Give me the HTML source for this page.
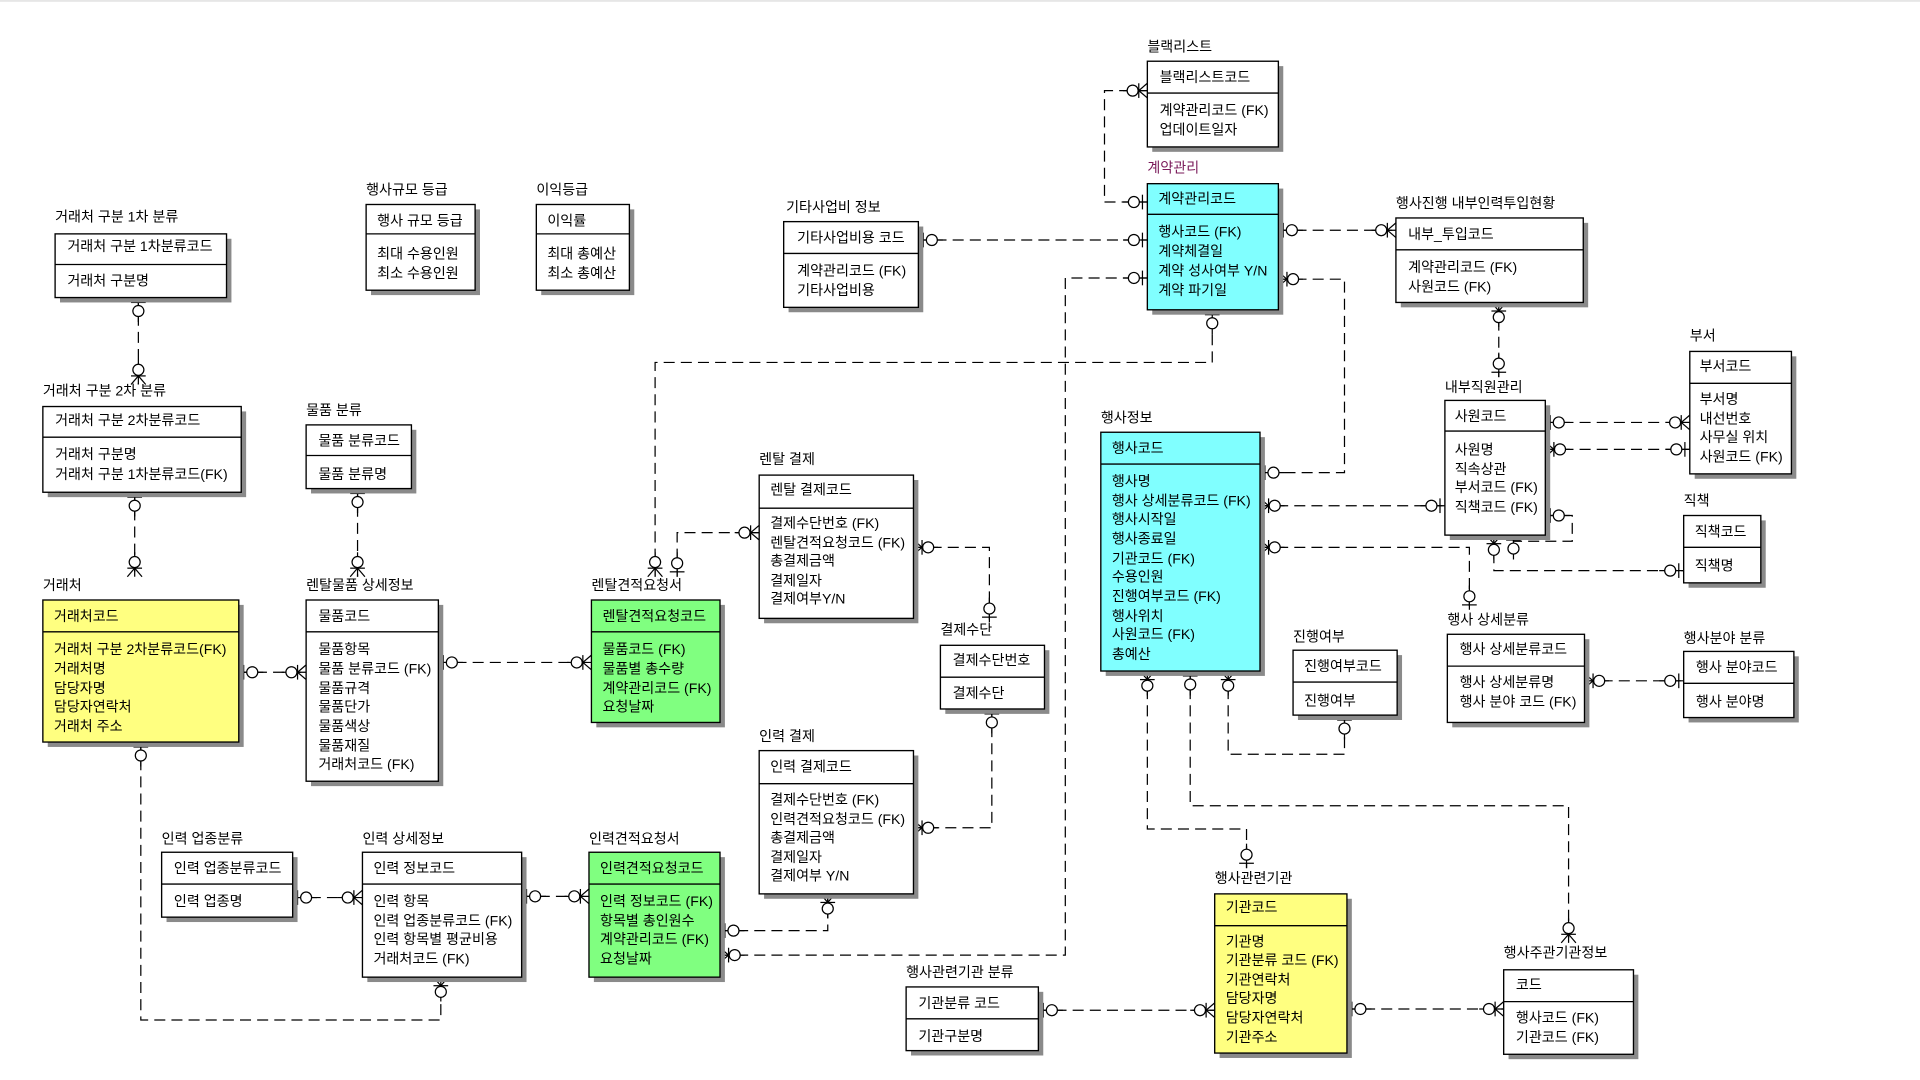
<!DOCTYPE html>
<html><head><meta charset="utf-8">
<style>
html,body{margin:0;padding:0;background:#fff;}
svg{display:block;}
text{font-family:"Liberation Sans","Noto Sans CJK KR",sans-serif;font-size:11.5px;fill:#000;}
.b{stroke:#000;stroke-width:1.1;}
.c{fill:none;stroke:#000;stroke-width:1;stroke-dasharray:9 5;}
.sh{fill:#8a8a8a;}
</style></head><body>
<svg width="1920" height="1080" viewBox="0 0 1568 882" xmlns="http://www.w3.org/2000/svg">
<defs>
<marker id="one" markerUnits="userSpaceOnUse" viewBox="-20 -8 22 16" refX="0" refY="0" markerWidth="22" markerHeight="16" orient="auto-start-reverse">
 <g stroke="#000" stroke-width="1" fill="#fff" stroke-dasharray="none">
  <line x1="-20" y1="0" x2="0" y2="0"/>
  <line x1="-4" y1="-6" x2="-4" y2="6"/>
  <circle cx="-11" cy="0" r="4.5"/>
 </g>
</marker>
<marker id="many" markerUnits="userSpaceOnUse" viewBox="-20 -8 22 16" refX="0" refY="0" markerWidth="22" markerHeight="16" orient="auto-start-reverse">
 <g stroke="#000" stroke-width="1" fill="#fff" stroke-dasharray="none">
  <line x1="-20" y1="0" x2="0" y2="0"/>
  <line x1="-7" y1="0" x2="0" y2="-6"/>
  <line x1="-7" y1="0" x2="0" y2="6"/>
  <line x1="-7" y1="-6" x2="-7" y2="6"/>
  <circle cx="-12" cy="0" r="4.5"/>
 </g>
</marker>
</defs>
<rect x="0" y="0" width="1568" height="1.5" fill="#e6e6e6"/>

<!-- connectors -->
<g class="c">
<path d="M113,243 V314" marker-start="url(#one)" marker-end="url(#many)"/>
<path d="M110,402 V471" marker-start="url(#one)" marker-end="url(#many)"/>
<path d="M292,399 V471" marker-start="url(#one)" marker-end="url(#many)"/>
<path d="M195,549 H250" marker-start="url(#one)" marker-end="url(#many)"/>
<path d="M358,541 H483" marker-start="url(#one)" marker-end="url(#many)"/>
<path d="M115,606 V833 H360 V798" marker-start="url(#one)" marker-end="url(#many)"/>
<path d="M239,733 H296" marker-start="url(#one)" marker-end="url(#many)"/>
<path d="M426,732 H481" marker-start="url(#one)" marker-end="url(#many)"/>
<path d="M588,760 H676 V730" marker-start="url(#one)" marker-end="url(#many)"/>
<path d="M588,780 H870 V227 H937" marker-start="url(#many)" marker-end="url(#one)"/>
<path d="M553,471 V435 H620" marker-start="url(#one)" marker-end="url(#many)"/>
<path d="M535,471 V296 H990 V253" marker-start="url(#many)" marker-end="url(#one)"/>
<path d="M746,447 H808 V508" marker-start="url(#many)" marker-end="url(#one)"/>
<path d="M810,579 V676 H746" marker-start="url(#one)" marker-end="url(#many)"/>
<path d="M750,196 H937" marker-start="url(#one)" marker-end="url(#one)"/>
<path d="M937,74 H902 V165 H937" marker-start="url(#many)" marker-end="url(#one)"/>
<path d="M1044,188 H1140" marker-start="url(#one)" marker-end="url(#many)"/>
<path d="M1044,228 H1098 V386 H1029" marker-start="url(#many)" marker-end="url(#one)"/>
<path d="M1224,247 V308" marker-start="url(#many)" marker-end="url(#one)"/>
<path d="M1262,345 H1380" marker-start="url(#one)" marker-end="url(#many)"/>
<path d="M1262,367 H1380" marker-start="url(#many)" marker-end="url(#one)"/>
<path d="M1029,413 H1180" marker-start="url(#many)" marker-end="url(#one)"/>
<path d="M1262,421 H1284 V442 H1236 V437" marker-start="url(#one)" marker-end="url(#one)"/>
<path d="M1220,437 V466 H1375" marker-start="url(#many)" marker-end="url(#one)"/>
<path d="M1029,447 H1200 V498" marker-start="url(#many)" marker-end="url(#one)"/>
<path d="M1294,556 H1375" marker-start="url(#many)" marker-end="url(#one)"/>
<path d="M1003,548 V616 H1098 V584" marker-start="url(#many)" marker-end="url(#one)"/>
<path d="M937,548 V677 H1018 V709" marker-start="url(#many)" marker-end="url(#one)"/>
<path d="M972,548 V658 H1281 V770" marker-start="url(#one)" marker-end="url(#many)"/>
<path d="M848,825 H992" marker-start="url(#one)" marker-end="url(#many)"/>
<path d="M1100,824 H1228" marker-start="url(#one)" marker-end="url(#many)"/>
</g>

<text x="45" y="181">거래처 구분 1차 분류</text>
<rect class="sh" x="49" y="195" width="140" height="52"/>
<rect class="b" x="45" y="191" width="140" height="52" fill="#fff"/>
<line class="b" x1="45" y1="216" x2="185" y2="216"/>
<text x="55" y="205">거래처 구분 1차분류코드</text>
<text x="55" y="233">거래처 구분명</text>

<text x="299" y="159">행사규모 등급</text>
<rect class="sh" x="303" y="171" width="89" height="70"/>
<rect class="b" x="299" y="167" width="89" height="70" fill="#fff"/>
<line class="b" x1="299" y1="191" x2="388" y2="191"/>
<text x="308" y="184">행사 규모 등급</text>
<text x="308" y="211">최대 수용인원</text>
<text x="308" y="227">최소 수용인원</text>

<text x="438" y="159">이익등급</text>
<rect class="sh" x="442" y="171" width="76" height="70"/>
<rect class="b" x="438" y="167" width="76" height="70" fill="#fff"/>
<line class="b" x1="438" y1="191" x2="514" y2="191"/>
<text x="447" y="184">이익률</text>
<text x="447" y="211">최대 총예산</text>
<text x="447" y="227">최소 총예산</text>

<text x="35" y="323">거래처 구분 2차 분류</text>
<rect class="sh" x="39" y="336" width="162" height="70"/>
<rect class="b" x="35" y="332" width="162" height="70" fill="#fff"/>
<line class="b" x1="35" y1="357" x2="197" y2="357"/>
<text x="45" y="347">거래처 구분 2차분류코드</text>
<text x="45" y="375">거래처 구분명</text>
<text x="45" y="391">거래처 구분 1차분류코드(FK)</text>

<text x="250" y="339">물품 분류</text>
<rect class="sh" x="254" y="351" width="86" height="52"/>
<rect class="b" x="250" y="347" width="86" height="52" fill="#fff"/>
<line class="b" x1="250" y1="372" x2="336" y2="372"/>
<text x="260" y="364">물품 분류코드</text>
<text x="260" y="391">물품 분류명</text>

<text x="35" y="482">거래처</text>
<rect class="sh" x="39" y="494" width="160" height="116"/>
<rect class="b" x="35" y="490" width="160" height="116" fill="#ffff80"/>
<line class="b" x1="35" y1="516" x2="195" y2="516"/>
<text x="44" y="507">거래처코드</text>
<text x="44" y="534">거래처 구분 2차분류코드(FK)</text>
<text x="44" y="550">거래처명</text>
<text x="44" y="566">담당자명</text>
<text x="44" y="581">담당자연락처</text>
<text x="44" y="597">거래처 주소</text>

<text x="250" y="482">렌탈물품 상세정보</text>
<rect class="sh" x="254" y="494" width="108" height="148"/>
<rect class="b" x="250" y="490" width="108" height="148" fill="#fff"/>
<line class="b" x1="250" y1="516" x2="358" y2="516"/>
<text x="260" y="507">물품코드</text>
<text x="260" y="534">물품항목</text>
<text x="260" y="550">물품 분류코드 (FK)</text>
<text x="260" y="566">물품규격</text>
<text x="260" y="581">물품단가</text>
<text x="260" y="597">물품색상</text>
<text x="260" y="613">물품재질</text>
<text x="260" y="628">거래처코드 (FK)</text>

<text x="483" y="482">렌탈견적요청서</text>
<rect class="sh" x="487" y="494" width="105" height="100"/>
<rect class="b" x="483" y="490" width="105" height="100" fill="#80ff80"/>
<line class="b" x1="483" y1="516" x2="588" y2="516"/>
<text x="492" y="507">렌탈견적요청코드</text>
<text x="492" y="534">물품코드 (FK)</text>
<text x="492" y="550">물품별 총수량</text>
<text x="492" y="566">계약관리코드 (FK)</text>
<text x="492" y="581">요청날짜</text>

<text x="620" y="379">렌탈 결제</text>
<rect class="sh" x="624" y="392" width="126" height="117"/>
<rect class="b" x="620" y="388" width="126" height="117" fill="#fff"/>
<line class="b" x1="620" y1="415" x2="746" y2="415"/>
<text x="629" y="404">렌탈 결제코드</text>
<text x="629" y="431">결제수단번호 (FK)</text>
<text x="629" y="447">렌탈견적요청코드 (FK)</text>
<text x="629" y="462">총결제금액</text>
<text x="629" y="478">결제일자</text>
<text x="629" y="493">결제여부Y/N</text>

<text x="768" y="518">결제수단</text>
<rect class="sh" x="772" y="531" width="85" height="52"/>
<rect class="b" x="768" y="527" width="85" height="52" fill="#fff"/>
<line class="b" x1="768" y1="553" x2="853" y2="553"/>
<text x="778" y="543">결제수단번호</text>
<text x="778" y="570">결제수단</text>

<text x="620" y="605">인력 결제</text>
<rect class="sh" x="624" y="617" width="126" height="117"/>
<rect class="b" x="620" y="613" width="126" height="117" fill="#fff"/>
<line class="b" x1="620" y1="640" x2="746" y2="640"/>
<text x="629" y="630">인력 결제코드</text>
<text x="629" y="657">결제수단번호 (FK)</text>
<text x="629" y="673">인력견적요청코드 (FK)</text>
<text x="629" y="688">총결제금액</text>
<text x="629" y="704">결제일자</text>
<text x="629" y="719">결제여부 Y/N</text>

<text x="132" y="689">인력 업종분류</text>
<rect class="sh" x="136" y="700" width="107" height="53"/>
<rect class="b" x="132" y="696" width="107" height="53" fill="#fff"/>
<line class="b" x1="132" y1="722" x2="239" y2="722"/>
<text x="142" y="713">인력 업종분류코드</text>
<text x="142" y="740">인력 업종명</text>

<text x="296" y="689">인력 상세정보</text>
<rect class="sh" x="300" y="700" width="130" height="102"/>
<rect class="b" x="296" y="696" width="130" height="102" fill="#fff"/>
<line class="b" x1="296" y1="722" x2="426" y2="722"/>
<text x="305" y="713">인력 정보코드</text>
<text x="305" y="740">인력 항목</text>
<text x="305" y="756">인력 업종분류코드 (FK)</text>
<text x="305" y="771">인력 항목별 평균비용</text>
<text x="305" y="787">거래처코드 (FK)</text>

<text x="481" y="689">인력견적요청서</text>
<rect class="sh" x="485" y="700" width="107" height="102"/>
<rect class="b" x="481" y="696" width="107" height="102" fill="#80ff80"/>
<line class="b" x1="481" y1="722" x2="588" y2="722"/>
<text x="490" y="713">인력견적요청코드</text>
<text x="490" y="740">인력 정보코드 (FK)</text>
<text x="490" y="756">항목별 총인원수</text>
<text x="490" y="771">계약관리코드 (FK)</text>
<text x="490" y="787">요청날짜</text>

<text x="642" y="173">기타사업비 정보</text>
<rect class="sh" x="644" y="185" width="110" height="70"/>
<rect class="b" x="640" y="181" width="110" height="70" fill="#fff"/>
<line class="b" x1="640" y1="207" x2="750" y2="207"/>
<text x="651" y="198">기타사업비용 코드</text>
<text x="651" y="225">계약관리코드 (FK)</text>
<text x="651" y="241">기타사업비용</text>

<text x="937" y="42">블랙리스트</text>
<rect class="sh" x="941" y="54" width="107" height="70"/>
<rect class="b" x="937" y="50" width="107" height="70" fill="#fff"/>
<line class="b" x1="937" y1="76" x2="1044" y2="76"/>
<text x="947" y="67">블랙리스트코드</text>
<text x="947" y="94">계약관리코드 (FK)</text>
<text x="947" y="110">업데이트일자</text>

<text x="937" y="141" style="fill:#7a1a5a">계약관리</text>
<rect class="sh" x="941" y="154" width="107" height="103"/>
<rect class="b" x="937" y="150" width="107" height="103" fill="#80ffff"/>
<line class="b" x1="937" y1="175" x2="1044" y2="175"/>
<text x="946" y="166">계약관리코드</text>
<text x="946" y="193">행사코드 (FK)</text>
<text x="946" y="209">계약체결일</text>
<text x="946" y="225">계약 성사여부 Y/N</text>
<text x="946" y="241">계약 파기일</text>

<text x="1140" y="170">행사진행 내부인력투입현황</text>
<rect class="sh" x="1144" y="182" width="153" height="69"/>
<rect class="b" x="1140" y="178" width="153" height="69" fill="#fff"/>
<line class="b" x1="1140" y1="204" x2="1293" y2="204"/>
<text x="1150" y="195">내부_투입코드</text>
<text x="1150" y="222">계약관리코드 (FK)</text>
<text x="1150" y="238">사원코드 (FK)</text>

<text x="899" y="345">행사정보</text>
<rect class="sh" x="903" y="357" width="130" height="195"/>
<rect class="b" x="899" y="353" width="130" height="195" fill="#80ffff"/>
<line class="b" x1="899" y1="379" x2="1029" y2="379"/>
<text x="908" y="370">행사코드</text>
<text x="908" y="397">행사명</text>
<text x="908" y="413">행사 상세분류코드 (FK)</text>
<text x="908" y="428">행사시작일</text>
<text x="908" y="444">행사종료일</text>
<text x="908" y="460">기관코드 (FK)</text>
<text x="908" y="475">수용인원</text>
<text x="908" y="491">진행여부코드 (FK)</text>
<text x="908" y="507">행사위치</text>
<text x="908" y="522">사원코드 (FK)</text>
<text x="908" y="538">총예산</text>

<text x="1380" y="278">부서</text>
<rect class="sh" x="1384" y="291" width="83" height="100"/>
<rect class="b" x="1380" y="287" width="83" height="100" fill="#fff"/>
<line class="b" x1="1380" y1="313" x2="1463" y2="313"/>
<text x="1388" y="303">부서코드</text>
<text x="1388" y="330">부서명</text>
<text x="1388" y="346">내선번호</text>
<text x="1388" y="361">사무실 위치</text>
<text x="1388" y="377">사원코드 (FK)</text>

<text x="1180" y="320">내부직원관리</text>
<rect class="sh" x="1184" y="331" width="82" height="110"/>
<rect class="b" x="1180" y="327" width="82" height="110" fill="#fff"/>
<line class="b" x1="1180" y1="352" x2="1262" y2="352"/>
<text x="1188" y="344">사원코드</text>
<text x="1188" y="371">사원명</text>
<text x="1188" y="387">직속상관</text>
<text x="1188" y="402">부서코드 (FK)</text>
<text x="1188" y="418">직책코드 (FK)</text>

<text x="1375" y="413">직책</text>
<rect class="sh" x="1379" y="425" width="63" height="55"/>
<rect class="b" x="1375" y="421" width="63" height="55" fill="#fff"/>
<line class="b" x1="1375" y1="447" x2="1438" y2="447"/>
<text x="1384" y="438">직책코드</text>
<text x="1384" y="466">직책명</text>

<text x="1056" y="524">진행여부</text>
<rect class="sh" x="1060" y="535" width="85" height="53"/>
<rect class="b" x="1056" y="531" width="85" height="53" fill="#fff"/>
<line class="b" x1="1056" y1="557" x2="1141" y2="557"/>
<text x="1065" y="548">진행여부코드</text>
<text x="1065" y="576">진행여부</text>

<text x="1182" y="510">행사 상세분류</text>
<rect class="sh" x="1186" y="522" width="112" height="72"/>
<rect class="b" x="1182" y="518" width="112" height="72" fill="#fff"/>
<line class="b" x1="1182" y1="544" x2="1294" y2="544"/>
<text x="1192" y="534">행사 상세분류코드</text>
<text x="1192" y="561">행사 상세분류명</text>
<text x="1192" y="577">행사 분야 코드 (FK)</text>

<text x="1375" y="525">행사분야 분류</text>
<rect class="sh" x="1379" y="536" width="90" height="54"/>
<rect class="b" x="1375" y="532" width="90" height="54" fill="#fff"/>
<line class="b" x1="1375" y1="558" x2="1465" y2="558"/>
<text x="1385" y="549">행사 분야코드</text>
<text x="1385" y="577">행사 분야명</text>

<text x="992" y="721">행사관련기관</text>
<rect class="sh" x="996" y="734" width="108" height="130"/>
<rect class="b" x="992" y="730" width="108" height="130" fill="#ffff80"/>
<line class="b" x1="992" y1="756" x2="1100" y2="756"/>
<text x="1001" y="745">기관코드</text>
<text x="1001" y="773">기관명</text>
<text x="1001" y="788">기관분류 코드 (FK)</text>
<text x="1001" y="804">기관연락처</text>
<text x="1001" y="819">담당자명</text>
<text x="1001" y="835">담당자연락처</text>
<text x="1001" y="851">기관주소</text>

<text x="740" y="798">행사관련기관 분류</text>
<rect class="sh" x="744" y="810" width="108" height="52"/>
<rect class="b" x="740" y="806" width="108" height="52" fill="#fff"/>
<line class="b" x1="740" y1="832" x2="848" y2="832"/>
<text x="750" y="823">기관분류 코드</text>
<text x="750" y="850">기관구분명</text>

<text x="1228" y="782">행사주관기관정보</text>
<rect class="sh" x="1232" y="796" width="106" height="69"/>
<rect class="b" x="1228" y="792" width="106" height="69" fill="#fff"/>
<line class="b" x1="1228" y1="818" x2="1334" y2="818"/>
<text x="1238" y="808">코드</text>
<text x="1238" y="835">행사코드 (FK)</text>
<text x="1238" y="851">기관코드 (FK)</text>
</svg>
</body></html>
